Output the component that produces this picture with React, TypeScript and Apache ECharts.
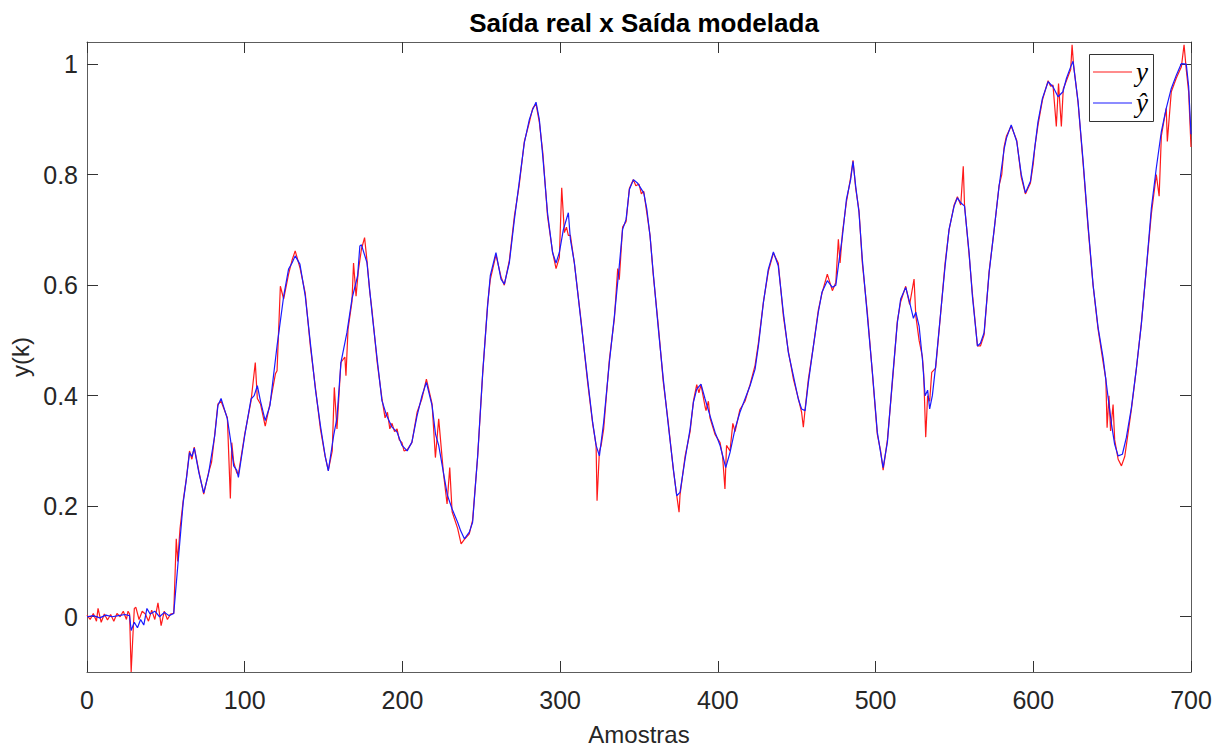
import React, { useEffect, useRef } from "react";
import * as echarts from "echarts";

// Tick labels
const xTicks = [0, 100, 200, 300, 400, 500, 600, 700];
const yTicks = [0, 0.2, 0.4, 0.6, 0.8, 1];
const legendNames = ["y", "ŷ"];

// Measured output y (sample, value)
const saidaReal: [number, number][] = [
  [0, 0.003], [2, -0.005], [4, 0.006], [6, -0.008], [7, 0.015], [9, -0.01], [11, 0.005], [13, -0.006],
  [15, 0.004], [17, -0.008], [19, 0.006], [21, 0.0], [23, 0.01], [25, -0.005], [26, 0.01], [27, 0.005],
  [28, -0.1], [29, -0.04], [30, 0.015], [31, 0.017], [33, -0.005], [35, 0.01], [37, 0.005], [39, -0.008],
  [41, 0.012], [43, -0.005], [45, 0.025], [46, 0.005], [47, -0.016], [49, 0.01], [51, -0.005], [53, 0.005],
  [55, 0.006], [56.6, 0.141], [57.5, 0.1], [59, 0.16], [61, 0.21], [63, 0.25], [65, 0.3], [66.5, 0.285],
  [68, 0.307], [71, 0.262], [74, 0.222], [77, 0.26], [79, 0.28], [81, 0.33], [83, 0.385], [85, 0.39],
  [89, 0.36], [90.9, 0.214], [91.8, 0.315], [93, 0.28], [95, 0.26], [96, 0.258], [100, 0.33], [104, 0.39],
  [106.7, 0.46], [108, 0.395], [110, 0.385], [113, 0.345], [116, 0.385], [119.5, 0.44], [120.5, 0.445],
  [122.6, 0.598], [124.7, 0.575], [127.8, 0.62], [130, 0.645], [132, 0.662], [135, 0.632], [138.4, 0.585],
  [141.6, 0.49], [144.8, 0.415], [148, 0.34], [151, 0.29], [153, 0.265], [155.5, 0.3], [156.8, 0.415],
  [158.5, 0.34], [161, 0.46], [163.5, 0.47], [164.2, 0.436], [165.5, 0.52], [168, 0.57], [169, 0.64],
  [170.6, 0.58], [172, 0.625], [174, 0.665], [176, 0.686], [177.5, 0.645], [179.2, 0.59], [180.7, 0.555],
  [184, 0.46], [187, 0.395], [189, 0.36], [190.5, 0.37], [192, 0.34], [193.4, 0.35], [195, 0.335],
  [196.6, 0.34], [198, 0.32], [199.7, 0.315], [201, 0.3], [203, 0.302], [206, 0.315], [209.3, 0.37],
  [212.4, 0.395], [215.2, 0.43], [218.8, 0.385], [220.9, 0.288], [223, 0.358], [226, 0.26], [228.3, 0.204],
  [230, 0.27], [231.5, 0.19], [235, 0.16], [237.2, 0.132], [239.3, 0.14], [242.4, 0.15], [244.5, 0.175],
  [247.7, 0.29], [250.9, 0.44], [254, 0.565], [255.7, 0.61], [259.3, 0.655], [262.5, 0.615], [264.6, 0.6],
  [267.8, 0.645], [271, 0.725], [274, 0.78], [277.3, 0.86], [280.5, 0.895], [282.6, 0.92], [284.7, 0.928],
  [286.8, 0.895], [289, 0.84], [292, 0.725], [295.2, 0.66], [297.4, 0.63], [299.5, 0.65], [301, 0.776],
  [302.7, 0.695], [304, 0.705], [305.2, 0.69], [306.5, 0.69], [309, 0.64], [313.3, 0.535], [317.4, 0.425],
  [320.6, 0.35], [322.8, 0.31], [323.4, 0.21], [324.9, 0.3], [326, 0.31], [327.6, 0.34], [331.2, 0.465],
  [334.4, 0.54], [336.5, 0.63], [337.5, 0.61], [339.6, 0.705], [341.8, 0.715], [343.9, 0.775], [346.4, 0.791],
  [348, 0.78], [350, 0.783], [351.5, 0.765], [353, 0.77], [355, 0.73], [357, 0.69], [359, 0.62],
  [362.3, 0.525], [365.4, 0.425], [368.6, 0.35], [371.8, 0.265], [373.9, 0.22], [375.4, 0.189], [376, 0.22],
  [379.2, 0.29], [382.4, 0.335], [384.5, 0.39], [386.6, 0.42], [388, 0.405], [389.3, 0.42], [391.9, 0.38],
  [392.5, 0.373], [394, 0.39], [395, 0.36], [398.2, 0.33], [401.4, 0.315], [403, 0.29], [404.5, 0.231],
  [405.5, 0.31], [407.7, 0.3], [409.5, 0.35], [410.9, 0.335], [414, 0.375], [417.2, 0.39], [420.4, 0.42],
  [423.6, 0.455], [425.7, 0.495], [428.9, 0.57], [432, 0.625], [435.2, 0.658], [438.3, 0.64], [441.5, 0.545],
  [444.7, 0.48], [447.9, 0.43], [451, 0.395], [453.1, 0.37], [454.2, 0.343], [455.3, 0.375], [457.4, 0.43],
  [460.6, 0.49], [463.7, 0.555], [466, 0.585], [469.4, 0.62], [472.6, 0.59], [474.8, 0.605], [476.4, 0.683],
  [477.5, 0.64], [479, 0.695], [481.5, 0.75], [484.2, 0.795], [485.7, 0.826], [487.4, 0.775], [489.5, 0.735],
  [491.6, 0.64], [494.8, 0.55], [498, 0.44], [501.1, 0.33], [503.2, 0.3], [504.8, 0.265], [507.5, 0.32],
  [510.7, 0.425], [513.8, 0.535], [515.9, 0.57], [519.1, 0.598], [521.6, 0.565], [524.4, 0.611], [525.5, 0.545],
  [527.6, 0.5], [529.7, 0.47], [530.5, 0.44], [531.8, 0.325], [533, 0.4], [534.3, 0.39], [535.6, 0.442],
  [538.1, 0.45], [541.3, 0.55], [544.1, 0.64], [546.6, 0.7], [549.8, 0.745], [551.9, 0.76], [554, 0.745],
  [555.6, 0.815], [556.4, 0.745], [559.3, 0.655], [561.4, 0.585], [564.6, 0.49], [566.5, 0.49], [568.8, 0.51],
  [572, 0.625], [575.2, 0.7], [578.3, 0.78], [580, 0.8], [581.5, 0.85], [583, 0.87], [586, 0.888],
  [589.5, 0.862], [592.4, 0.795], [595, 0.765], [598.2, 0.785], [600, 0.82], [601, 0.85], [603, 0.89],
  [605.8, 0.935], [609.4, 0.97], [611, 0.96], [612.5, 0.962], [614.6, 0.887], [616, 0.965], [617.8, 0.887],
  [619, 0.955], [621, 0.97], [623.7, 0.99], [624.6, 1.035], [625.5, 1.0], [628.4, 0.93], [631.6, 0.82],
  [634.7, 0.705], [637.9, 0.6], [641.1, 0.52], [644.3, 0.46], [646, 0.43], [646.8, 0.342], [648, 0.4],
  [649, 0.336], [650.6, 0.384], [651.6, 0.32], [653.8, 0.285], [655.9, 0.273], [658, 0.29], [659, 0.31],
  [662.2, 0.375], [665.4, 0.45], [668.5, 0.53], [671.7, 0.63], [674.9, 0.73], [678, 0.8], [679.8, 0.761],
  [681.2, 0.87], [683, 0.9], [684.3, 0.92], [685, 0.86], [687.5, 0.95], [690.7, 0.975], [693.9, 0.995],
  [695.6, 1.035], [697, 0.99], [698.5, 0.95], [700, 0.85],
];

// Modelled output y-hat (sample, value)
const saidaModelada: [number, number][] = [
  [0, 0], [4, 0.002], [8, -0.002], [12, 0.003], [16, 0], [20, 0.002], [24, 0.004], [27, 0.002],
  [28, -0.025], [30, -0.01], [32, -0.02], [34, -0.005], [36, -0.015], [38, 0.015], [40, 0.005], [43, 0.01],
  [46, 0.0], [49, 0.008], [52, 0.002], [55, 0.006], [57.5, 0.09], [61, 0.207], [63, 0.249], [65, 0.297],
  [66.5, 0.29], [68, 0.305], [71, 0.26], [74, 0.224], [77, 0.258], [81, 0.328], [83, 0.382], [85, 0.395],
  [89, 0.358], [91, 0.32], [93, 0.273], [95, 0.265], [96, 0.252], [100, 0.328], [104, 0.394], [106, 0.4],
  [108, 0.418], [110, 0.39], [113, 0.355], [116, 0.382], [120.5, 0.49], [124.7, 0.58], [127.8, 0.629],
  [130, 0.64], [132, 0.653], [135, 0.638], [138.4, 0.58], [141.6, 0.496], [144.8, 0.412], [148, 0.346],
  [151, 0.291], [153, 0.264], [156.4, 0.328], [158.5, 0.36], [161, 0.46], [164.8, 0.514], [168, 0.575],
  [171.6, 0.617], [173, 0.671], [174, 0.673], [177.5, 0.641], [180.7, 0.55], [184, 0.466], [187, 0.391],
  [190, 0.364], [193.4, 0.343], [196.6, 0.334], [199.7, 0.31], [203, 0.3], [206, 0.316], [209.3, 0.364],
  [212.4, 0.4], [215.2, 0.424], [218.8, 0.382], [221, 0.33], [223, 0.31], [226, 0.261], [228.5, 0.22],
  [231.5, 0.195], [235, 0.171], [237, 0.155], [239.3, 0.141], [242.4, 0.153], [244.5, 0.171], [247.7, 0.291],
  [250.9, 0.442], [254, 0.562], [255.7, 0.617], [259.3, 0.659], [262.5, 0.611], [264.6, 0.602], [267.8, 0.641],
  [271, 0.719], [274, 0.785], [277.3, 0.858], [280.5, 0.9], [282.6, 0.918], [284.7, 0.931], [286.8, 0.9],
  [289, 0.833], [292, 0.731], [295.2, 0.659], [297.4, 0.64], [299.5, 0.659], [302, 0.7], [305.2, 0.731],
  [306.5, 0.683], [309, 0.641], [313.3, 0.532], [317.4, 0.43], [320.6, 0.352], [322.8, 0.31], [324.9, 0.291],
  [327.6, 0.352], [331.2, 0.46], [334.4, 0.544], [337.5, 0.635], [339.6, 0.701], [341.8, 0.719], [343.9, 0.773],
  [346.5, 0.791], [349, 0.785], [353, 0.767], [355, 0.737], [357, 0.689], [359, 0.623], [362.3, 0.52],
  [365.4, 0.43], [368.6, 0.346], [371.8, 0.267], [373.9, 0.219], [376, 0.225], [379.2, 0.285], [382.4, 0.34],
  [384.5, 0.388], [386.6, 0.412], [389.3, 0.421], [391.9, 0.394], [395, 0.364], [398.2, 0.334], [401.4, 0.31],
  [404.1, 0.28], [405, 0.27], [407.7, 0.297], [410.9, 0.34], [414, 0.37], [417.2, 0.394], [420.4, 0.418],
  [423.6, 0.448], [425.7, 0.49], [428.9, 0.569], [432, 0.629], [435.2, 0.66], [438.3, 0.635], [441.5, 0.551],
  [444.7, 0.478], [447.9, 0.436], [451, 0.394], [453.1, 0.376], [455.3, 0.373], [457.4, 0.424], [460.6, 0.49],
  [463.7, 0.551], [466, 0.587], [469.4, 0.608], [472.6, 0.596], [474.8, 0.6], [476.4, 0.635], [479, 0.689],
  [481.5, 0.755], [484.2, 0.791], [485.7, 0.824], [487.4, 0.779], [489.5, 0.731], [491.6, 0.647], [494.8, 0.544],
  [498, 0.442], [501.1, 0.334], [503.2, 0.297], [504.8, 0.27], [507.5, 0.316], [510.7, 0.43], [513.8, 0.532],
  [515.9, 0.575], [519.1, 0.596], [521.6, 0.569], [524, 0.54], [525.5, 0.551], [527.6, 0.526], [529.7, 0.466],
  [531.4, 0.4], [533, 0.41], [534.3, 0.376], [536, 0.4], [538.1, 0.454], [541.3, 0.551], [544.1, 0.635],
  [546.6, 0.701], [549.8, 0.743], [551.9, 0.758], [554, 0.749], [556.4, 0.743], [559.3, 0.659], [561.4, 0.58],
  [564.6, 0.49], [566.5, 0.495], [568.8, 0.514], [572, 0.623], [575.2, 0.701], [578.3, 0.779], [581.5, 0.846],
  [583, 0.866], [586, 0.89], [589.5, 0.86], [592.4, 0.8], [595, 0.767], [598.2, 0.788], [600.9, 0.848],
  [603, 0.896], [605.8, 0.938], [609.4, 0.968], [612.5, 0.959], [615.7, 0.941], [618.8, 0.95], [621, 0.974],
  [623.7, 0.995], [625.2, 1.005], [628.4, 0.932], [631.6, 0.824], [634.7, 0.71], [637.9, 0.601], [641.1, 0.523],
  [644.3, 0.468], [646.4, 0.42], [649.6, 0.348], [651.6, 0.312], [653.8, 0.291], [656.5, 0.294], [659, 0.324],
  [662.2, 0.378], [665.4, 0.45], [668.5, 0.529], [671.7, 0.631], [674.9, 0.74], [678, 0.812], [681.2, 0.878],
  [684.3, 0.92], [687.5, 0.956], [690.7, 0.98], [693.9, 1.001], [697, 1.0], [698.5, 0.96], [700, 0.873],
];

const TXT = "#262626";
const AXIS = "#5c5c5c";
const FONT = "Liberation Sans, Arial, Helvetica, sans-serif";
const SERIF = "Liberation Serif, DejaVu Serif, serif";
const RED = "#ff1a1a";
const BLUE = "#1a1aff";

export default function App() {
  const ref = useRef<HTMLDivElement>(null);
  useEffect(() => {
    if (!ref.current) return;
    const chart = echarts.init(ref.current, null, { renderer: "svg" });
    const tickCommon = { inside: true, length: 11, lineStyle: { color: "#333", width: 1 } };
    const xBase = {
      type: "value" as const,
      min: 0,
      max: 700,
      interval: 100,
      splitLine: { show: false },
      axisLine: { show: true, onZero: false, lineStyle: { color: AXIS, width: 1 } },
    };
    const yBase = {
      type: "value" as const,
      min: -0.1,
      max: 1.04,
      splitLine: { show: false },
      axisLine: { show: true, onZero: false, lineStyle: { color: AXIS, width: 1 } },
    };
    const legendColors = [RED, BLUE];
    const legendGraphics: any[] = [
      {
        type: "rect",
        shape: { x: 1089.5, y: 54.5, width: 64, height: 67 },
        style: { fill: "#fff", stroke: "#333", lineWidth: 1 },
        z: 10,
      },
    ];
    legendNames.forEach((name, i) => {
      const yy = 72 + i * 31;
      legendGraphics.push({
        type: "line",
        shape: { x1: 1093, y1: yy, x2: 1132, y2: yy },
        style: { stroke: legendColors[i], lineWidth: 1.2 },
        z: 11,
      });
      legendGraphics.push({
        type: "text",
        x: 1136,
        y: yy,
        style: {
          text: name,
          font: `italic 27px ${SERIF}`,
          fill: "#000",
          textVerticalAlign: "middle",
          verticalAlign: "middle",
        },
        z: 11,
      });
    });
    chart.setOption({
      animation: false,
      backgroundColor: "#ffffff",
      title: {
        text: "Saída real x Saída modelada",
        left: 639,
        top: 5,
        textAlign: "center",
        textStyle: { fontFamily: FONT, fontSize: 26, fontWeight: "bold", color: "#000" },
      },
      graphic: legendGraphics,
      grid: { left: 87, right: 37, top: 42, bottom: 77, containLabel: false },
      xAxis: [
        {
          ...xBase,
          position: "bottom",
          name: "Amostras",
          nameLocation: "middle",
          nameGap: 50,
          nameTextStyle: { fontFamily: FONT, fontSize: 24, color: TXT },
          axisTick: tickCommon,
          axisLabel: {
            margin: 15,
            fontFamily: FONT,
            fontSize: 25,
            color: TXT,
            customValues: xTicks,
          },
        },
        {
          ...xBase,
          position: "top",
          axisTick: tickCommon,
          axisLabel: { show: false },
        },
      ],
      yAxis: [
        {
          ...yBase,
          position: "left",
          name: "y(k)",
          nameLocation: "middle",
          nameGap: 54,
          nameTextStyle: { fontFamily: FONT, fontSize: 24, color: TXT },
          axisTick: { ...tickCommon, customValues: yTicks },
          axisLabel: {
            margin: 9,
            fontFamily: FONT,
            fontSize: 25,
            color: TXT,
            customValues: yTicks,
            formatter: (v: number) => String(Math.round(v * 10) / 10),
          },
        },
        {
          ...yBase,
          position: "right",
          axisTick: { ...tickCommon, customValues: yTicks },
          axisLabel: { show: false },
        },
      ],
      series: [
        {
          name: legendNames[0],
          type: "line",
          data: saidaReal,
          showSymbol: false,
          symbol: "none",
          color: RED,
          lineStyle: { color: RED, width: 1.2 },
          xAxisIndex: 0,
          yAxisIndex: 0,
          z: 2,
        },
        {
          name: legendNames[1],
          type: "line",
          data: saidaModelada,
          showSymbol: false,
          symbol: "none",
          color: BLUE,
          lineStyle: { color: BLUE, width: 1.2 },
          xAxisIndex: 0,
          yAxisIndex: 0,
          z: 3,
        },
      ],
    });
    return () => chart.dispose();
  }, []);
  return <div ref={ref} style={{ position: "fixed", left: 0, top: 0, width: 1228, height: 751, background: "#fff" }} />;
}
